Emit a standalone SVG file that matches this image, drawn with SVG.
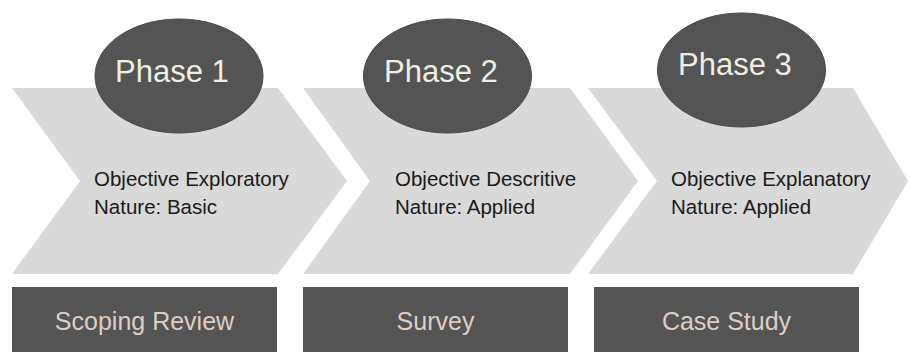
<svg xmlns="http://www.w3.org/2000/svg" width="910" height="352" viewBox="0 0 910 352">
  <style>
    .chev { fill: #d9d9d9; }
    .badge { fill: #545454; stroke: #4a4a4a; stroke-width: 1; }
    .badge-text { font-family: "Liberation Sans", Arial, sans-serif; font-size: 31px; fill: #eeefe2; }
    .body { font-family: "Liberation Sans", Arial, sans-serif; font-size: 20.5px; fill: #1a1a1a; }
    .method { fill: #545454; }
    .method-text { font-family: "Liberation Sans", Arial, sans-serif; font-size: 25px; fill: #ddcfc6; text-anchor: middle; }
  </style>
  <rect width="910" height="352" fill="#ffffff"/>

  <!-- Phase 1 -->
  <g id="phase1">
    <polygon class="chev" points="12,88 278,88 347,181 278,274 12,274 80,181"/>
    <ellipse class="badge" cx="179" cy="76" rx="84" ry="57"/>
    <text class="badge-text" x="115" y="82">Phase 1</text>
    <text class="body" x="94" y="186">Objective Exploratory</text>
    <text class="body" x="94" y="214">Nature: Basic</text>
  </g>

  <!-- Phase 2 -->
  <g id="phase2">
    <polygon class="chev" points="303,88 570,88 638,181 570,274 303,274 370,181"/>
    <ellipse class="badge" cx="447.5" cy="76" rx="84" ry="57"/>
    <text class="badge-text" x="384" y="82">Phase 2</text>
    <text class="body" x="395" y="186">Objective Descritive</text>
    <text class="body" x="395" y="214">Nature: Applied</text>
  </g>

  <!-- Phase 3 -->
  <g id="phase3">
    <polygon class="chev" points="588,88 853,88 908,181 853,274 588,274 657,181"/>
    <ellipse class="badge" cx="741.5" cy="70" rx="84" ry="57"/>
    <text class="badge-text" x="678" y="75">Phase 3</text>
    <text class="body" x="671" y="186">Objective Explanatory</text>
    <text class="body" x="671" y="214">Nature: Applied</text>
  </g>

  <!-- Methods -->
  <g id="method1">
    <rect class="method" x="12" y="287" width="265" height="65"/>
    <text class="method-text" x="144.5" y="330">Scoping Review</text>
  </g>
  <g id="method2">
    <rect class="method" x="303" y="287" width="265" height="65"/>
    <text class="method-text" x="435.5" y="330">Survey</text>
  </g>
  <g id="method3">
    <rect class="method" x="594" y="287" width="265" height="65"/>
    <text class="method-text" x="726.5" y="330">Case Study</text>
  </g>

  <g id="connectors"></g>
</svg>
